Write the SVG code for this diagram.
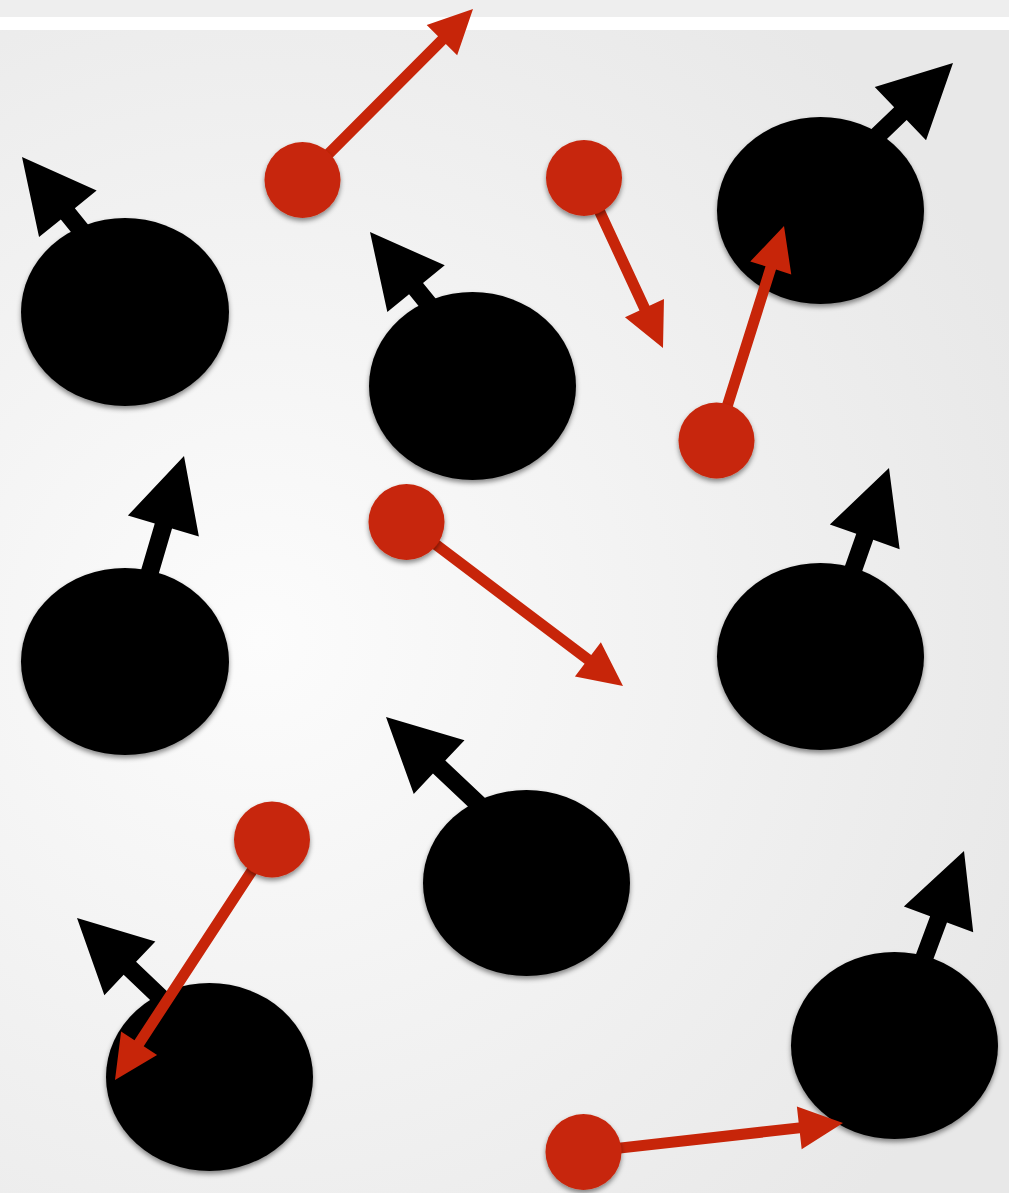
<svg xmlns="http://www.w3.org/2000/svg" width="1009" height="1193" viewBox="0 0 1009 1193">
  <defs>
    <radialGradient id="bg" cx="260" cy="640" r="820" gradientUnits="userSpaceOnUse">
      <stop offset="0" stop-color="#fcfcfc"/>
      <stop offset="1" stop-color="#e8e8e8"/>
    </radialGradient>
    <filter id="sh" x="-20%" y="-20%" width="140%" height="150%">
      <feDropShadow dx="0" dy="3" stdDeviation="2.5" flood-color="#000" flood-opacity="0.45"/>
    </filter>
    <path id="barrow" d="M -140,-9 L -73,-9 L -73,-37 L 0,0 L -73,37 L -73,9 L -140,9 Z"/>
  </defs>
  <style>
    .big { fill: #000; filter: url(#sh); }
    .small { fill: #c72509; filter: url(#sh); }
    .blk { fill: #000; }
    .red { fill: #c72509; }
  </style>
  <rect x="0" y="0" width="1009" height="1193" fill="url(#bg)"/>
  <rect x="0" y="0" width="1009" height="17" fill="#eeeeee"/>
  <rect x="0" y="17" width="1009" height="13" fill="#ffffff"/>

  <g id="big1"><ellipse class="big" cx="125" cy="312" rx="104" ry="94"/></g>
  <g id="big2"><ellipse class="big" cx="472.5" cy="386" rx="103.5" ry="94"/></g>
  <g id="big3"><ellipse class="big" cx="820.5" cy="210.5" rx="103.5" ry="93.5"/></g>
  <g id="big4"><ellipse class="big" cx="125" cy="661.5" rx="104" ry="93.5"/></g>
  <g id="big5"><ellipse class="big" cx="820.5" cy="656.5" rx="103.5" ry="93.5"/></g>
  <g id="big6"><ellipse class="big" cx="526.5" cy="883" rx="103.5" ry="93"/></g>
  <g id="big7"><ellipse class="big" cx="209.5" cy="1077" rx="103.5" ry="94"/></g>
  <g id="big8"><ellipse class="big" cx="894.5" cy="1045.5" rx="103.5" ry="93.5"/></g>

  <g id="connectors">
    <use href="#barrow" class="blk" transform="translate(22,157) rotate(-128.9)"/>
    <use href="#barrow" class="blk" transform="translate(370,232) rotate(-129.1)"/>
    <use href="#barrow" class="blk" transform="translate(953,63) rotate(-43.9)"/>
    <use href="#barrow" class="blk" transform="translate(184,456) rotate(-73.6)"/>
    <use href="#barrow" class="blk" transform="translate(889,468) rotate(-70.6)"/>
    <use href="#barrow" class="blk" transform="translate(386,717) rotate(-136.7)"/>
    <use href="#barrow" class="blk" transform="translate(77,918) rotate(-136.4)"/>
    <use href="#barrow" class="blk" transform="translate(964,851) rotate(-69.6)"/>

    <path class="red" transform="translate(473,9) rotate(-45.1)" d="M -241,-5.5 L -44,-5.5 L -44,-21.5 L 0,0 L -44,21.5 L -44,5.5 L -241,5.5 Z"/>
    <path class="red" transform="translate(663,348) rotate(65.1)" d="M -187,-5.5 L -44,-5.5 L -44,-21.5 L 0,0 L -44,21.5 L -44,5.5 L -187,5.5 Z"/>
    <path class="red" transform="translate(784,226) rotate(-72.5)" d="M -225,-5.5 L -44,-5.5 L -44,-21.5 L 0,0 L -44,21.5 L -44,5.5 L -225,5.5 Z"/>
    <path class="red" transform="translate(623,686) rotate(37.1)" d="M -271,-5.5 L -44,-5.5 L -44,-21.5 L 0,0 L -44,21.5 L -44,5.5 L -271,5.5 Z"/>
    <path class="red" transform="translate(115,1080) rotate(123.2)" d="M -287,-5.5 L -44,-5.5 L -44,-21.5 L 0,0 L -44,21.5 L -44,5.5 L -287,5.5 Z"/>
    <path class="red" transform="translate(843,1123) rotate(-6.4)" d="M -261,-5.5 L -44,-5.5 L -44,-21.5 L 0,0 L -44,21.5 L -44,5.5 L -261,5.5 Z"/>
  </g>

  <g id="small1"><circle class="small" cx="302.5" cy="180" r="38"/></g>
  <g id="small2"><circle class="small" cx="584" cy="178" r="38"/></g>
  <g id="small3"><circle class="small" cx="716.5" cy="440.5" r="38"/></g>
  <g id="small4"><circle class="small" cx="406.5" cy="522" r="38"/></g>
  <g id="small5"><circle class="small" cx="272" cy="839.5" r="38"/></g>
  <g id="small6"><circle class="small" cx="583.5" cy="1152" r="38"/></g>
</svg>
